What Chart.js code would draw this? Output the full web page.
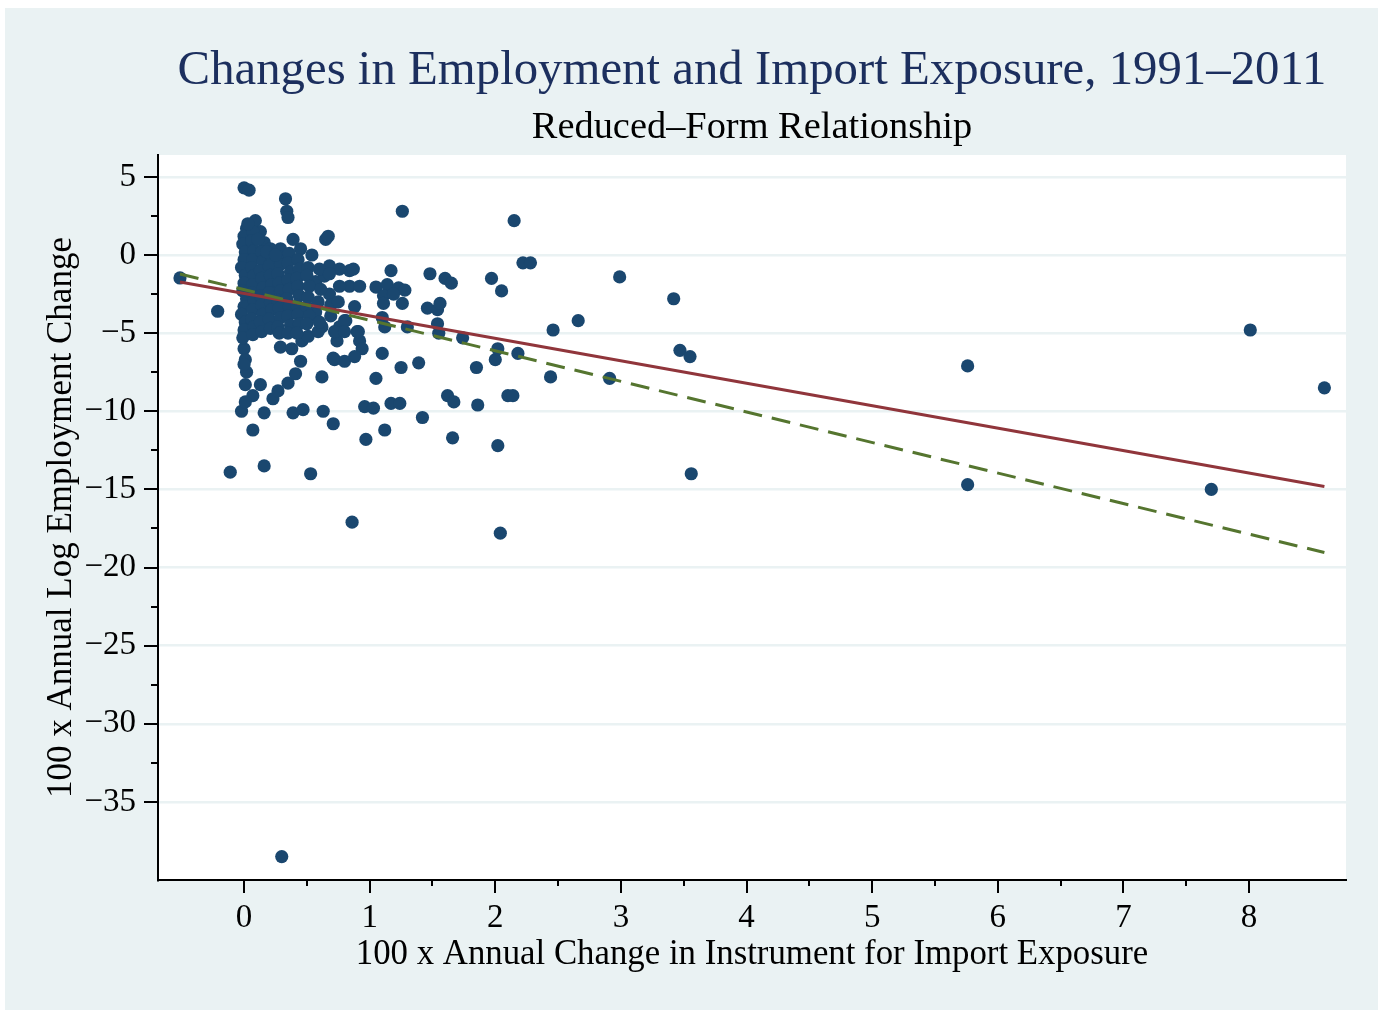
<!DOCTYPE html>
<html><head><meta charset="utf-8">
<script src="https://cdn.jsdelivr.net/npm/chart.js@4.4.1/dist/chart.umd.min.js"></script>
<style>html,body{margin:0;padding:0;background:#fff;overflow:hidden}#wrap{width:1383px;height:1015px}</style>
</head><body><div id="wrap"><canvas id="c" width="1383" height="1015"></canvas></div>
<script>
const titleText = "Changes in Employment and Import Exposure, 1991\u20132011";
const subtitleText = "Reduced\u2013Form Relationship";
const xAxisTitle = "100 x Annual Change in Instrument for Import Exposure";
const yAxisTitle = "100 x Annual Log Employment Change";
const xTickValues = [0,1,2,3,4,5,6,7,8];
const yTickValues = [5,0,-5,-10,-15,-20,-25,-30,-35];
const xMinorTicks = [0.5,1.5,2.5,3.5,4.5,5.5,6.5,7.5];
const yMinorTicks = [2.5,-2.5,-7.5,-12.5,-17.5,-22.5,-27.5,-32.5];

const pointX = [
-0.51,-0.21,-0.11,0.0,0.04,0.33,0.34,0.35,1.26,2.15,0.39,0.65,0.67,0.16,0.53,0.86,0.30,2.02,2.04,1.66,
0.97,1.12,0.07,0.16,-0.02,0.39,0.47,0.63,0.71,0.96,1.03,1.17,1.24,1.42,1.62,1.67,1.86,2.10,2.14,1.85,
1.25,1.39,1.05,1.10,0.72,0.80,0.62,2.0,2.02,2.18,2.44,2.91,2.46,2.66,2.99,3.42,3.47,3.55,3.56,5.76,
5.76,7.70,8.01,8.60,1.97,2.05,2.22,2.28,1.60,1.65,1.48,1.74,1.54,1.55,1.17,1.05,1.14,1.23,1.28,1.11,
1.19,1.11,1.26,1.46,1.54,1.56,1.10,1.12,1.30,0.84,0.87,0.84,0.92,0.88,0.76,0.81,0.90,0.92,0.94,0.88,
0.29,0.38,0.46,0.51,0.45,0.62,0.74,0.71,0.00,0.01,0.02,0.01,0.13,0.07,0.01,0.23,0.27,0.35,0.41,0.0,
0.09,0.02,0.13,0.16,0.29,0.45,0.54,0.68,0.76,0.57,0.64,0.68,0.57,0.69,0.80,0.59,0.72,0.80,0.91,
0.0,-0.01,0.01,0.0,-0.02,0.01,0.0,-0.01,0.02,0.0,-0.02,0.01,0.0,-0.01,
0.07,0.06,0.08,0.07,0.06,0.08,0.07,0.06,0.08,0.07,0.06,0.08,0.07,
0.14,0.15,0.13,0.14,0.15,0.13,0.14,0.15,0.13,0.14,
0.21,0.22,0.20,0.21,0.22,0.20,0.21,0.22,0.20,0.21,
0.28,0.29,0.27,0.28,0.29,0.27,0.28,0.29,0.27,0.28,
0.36,0.35,0.37,0.35,0.36,0.34,0.36,0.35,0.37,0.35,
0.43,0.44,0.42,0.43,0.44,0.42,0.43,0.44,0.42,
0.51,0.50,0.52,0.51,0.50,0.52,0.50,
0.60,0.61,0.59,0.60,0.68,0.69,0.76,0.75,
0.03,0.11,0.18,0.25
];
const pointY = [
-1.47,-3.6,-13.9,4.3,4.15,3.6,2.8,2.4,2.8,2.2,1.0,1.0,1.2,-13.5,-14.0,-17.1,-38.5,-12.2,-17.8,-11.7,
-11.8,-11.2,-11.2,-10.1,-10.0,-10.1,-9.9,-10.0,-10.8,-9.7,-9.8,-9.5,-9.5,-10.4,-9.0,-9.4,-9.6,-9.0,-9.0,-7.2,
-7.2,-6.9,-7.9,-6.3,-6.7,-6.8,-7.8,-6.7,-6.0,-6.3,-7.8,-7.9,-4.8,-4.2,-1.4,-2.8,-6.1,-6.5,-14.0,-7.1,
-14.7,-15.0,-4.8,-8.5,-1.5,-2.3,-0.5,-0.5,-1.5,-1.8,-1.2,-5.3,-4.4,-5.0,-1.0,-2.05,-1.9,-2.1,-2.25,-2.6,
-2.5,-3.1,-3.1,-3.4,-3.5,-3.1,-4.0,-4.6,-4.6,-1.0,-0.9,-2.0,-2.0,-3.3,-4.6,-4.2,-4.9,-5.5,-6.0,-6.5,
-5.9,-6.0,-5.5,-5.2,-6.8,-4.6,-5.5,-6.6,-6.0,-6.7,-7.5,-8.3,-8.3,-9.0,-9.4,-9.2,-8.7,-8.2,-7.6,-7.0,
2.2,1.7,1.5,0.8,0.4,0.4,0.0,-0.7,-0.9,-1.7,-1.35,-2.5,-3.65,-3.9,-4.2,-4.9,-4.9,-4.9,-4.9,
1.2,0.7,0.2,-0.3,-0.8,-1.3,-1.8,-2.3,-2.8,-3.3,-3.8,-4.3,-4.8,-5.3,
1.5,0.9,0.3,-0.3,-0.8,-1.3,-1.9,-2.4,-2.9,-3.5,-4.1,-4.6,-5.1,
0.2,-0.4,-1.0,-1.5,-2.1,-2.6,-3.2,-3.8,-4.3,-4.9,
0.4,-0.2,-0.7,-1.3,-1.9,-2.4,-3.0,-3.5,-4.1,-4.7,
-0.1,-0.6,-1.2,-1.8,-2.3,-2.9,-3.4,-4.0,-4.6,-5.0,
0.1,-0.5,-1.1,-1.6,-2.2,-2.8,-3.3,-3.9,-4.5,-5.0,
-0.3,-0.9,-1.5,-2.0,-2.6,-3.2,-3.8,-4.4,-5.0,
-0.8,-1.3,-2.0,-2.7,-3.3,-3.9,-4.4,
-0.9,-2.2,-3.0,-4.3,-1.2,-3.2,-2.0,-3.0,
2.0,1.0,0.2,0.0
];
const fitX = [-0.51, 8.6];
const fitRedY = [-1.73, -14.81];
const fitGreenY = [-1.22, -19.04];

const FONT = "'Liberation Serif', 'Times New Roman', serif";
const toPts = (xs, ys) => xs.map((x, i) => ({x: x, y: ys[i]}));
const fmt = v => (v < 0 ? "\u2212" + Math.abs(v) : String(v));

const bgPlugin = {
  id: 'bg',
  beforeDraw(chart) {
    const {ctx, chartArea: a} = chart;
    ctx.save();
    ctx.fillStyle = '#ffffff';
    ctx.fillRect(0, 0, chart.width, chart.height);
    ctx.fillStyle = '#EAF2F3';
    ctx.fillRect(5, 8, 1373, 1002);
    ctx.fillStyle = '#ffffff';
    ctx.fillRect(a.left, a.top, a.right - a.left, a.bottom - a.top);
    ctx.restore();
  },
  afterDraw(chart) {
    const {ctx, chartArea: a, scales} = chart;
    ctx.save();
    const cx = (a.left + a.right) / 2;
    ctx.textAlign = 'center';
    ctx.textBaseline = 'alphabetic';
    ctx.fillStyle = '#1c2f5e';
    ctx.font = '48.8px ' + FONT;
    ctx.fillText(titleText, cx, 84);
    ctx.fillStyle = '#000000';
    ctx.font = '38.4px ' + FONT;
    ctx.fillText(subtitleText, cx, 138);
    // axis ticks
    ctx.strokeStyle = '#000';
    ctx.lineWidth = 2;
    ctx.beginPath();
    xTickValues.forEach(v => { const p = Math.round(scales.x.getPixelForValue(v)); ctx.moveTo(p, a.bottom); ctx.lineTo(p, a.bottom + 13); });
    xMinorTicks.forEach(v => { const p = Math.round(scales.x.getPixelForValue(v)); ctx.moveTo(p, a.bottom); ctx.lineTo(p, a.bottom + 6); });
    yTickValues.forEach(v => { const p = Math.round(scales.y.getPixelForValue(v)); ctx.moveTo(a.left, p); ctx.lineTo(a.left - 14, p); });
    yMinorTicks.forEach(v => { const p = Math.round(scales.y.getPixelForValue(v)); ctx.moveTo(a.left, p); ctx.lineTo(a.left - 7, p); });
    ctx.stroke();
    ctx.restore();
  }
};

new Chart(document.getElementById('c'), {
  type: 'scatter',
  data: {
    datasets: [
      { label: 'fit2', data: toPts(fitX, fitGreenY), showLine: true, borderColor: '#55752F', borderWidth: 3, borderDash: [19, 10], pointRadius: 0, fill: false },
      { label: 'fit1', data: toPts(fitX, fitRedY), showLine: true, borderColor: '#90353B', borderWidth: 3, pointRadius: 0, fill: false },
      { label: 'points', data: toPts(pointX, pointY), backgroundColor: '#1A476F', borderWidth: 0, pointRadius: 6.6, pointHoverRadius: 6.6 }
    ]
  },
  options: {
    responsive: false,
    animation: false,
    devicePixelRatio: 1,
    layout: { padding: { top: 155, right: 37, left: 0, bottom: 0 } },
    plugins: { legend: { display: false }, tooltip: { enabled: false } },
    scales: {
      x: {
        type: 'linear', min: -0.685, max: 8.772,
        afterFit(s) { s.height = 135; },
        afterBuildTicks(s) { s.ticks = xTickValues.map(v => ({value: v})); },
        grid: { display: false },
        border: { display: true, color: '#000', width: 2 },
        ticks: { callback: v => fmt(v), color: '#000', font: { family: FONT, size: 33 }, padding: 11, maxRotation: 0, autoSkip: false },
        title: { display: true, text: xAxisTitle, color: '#000', font: { family: FONT, size: 34.8 }, padding: { top: 0, bottom: 39 } }
      },
      y: {
        type: 'linear', min: -40, max: 6.4,
        afterFit(s) { s.width = 158; },
        afterBuildTicks(s) { s.ticks = yTickValues.map(v => ({value: v})); },
        grid: { display: true, color: '#EAF2F3', lineWidth: 2.5, drawTicks: false },
        border: { display: true, color: '#000', width: 2 },
        ticks: { callback: v => fmt(v), color: '#000', font: { family: FONT, size: 33 }, padding: 22, autoSkip: false },
        title: { display: true, text: yAxisTitle, color: '#000', font: { family: FONT, size: 35 }, padding: { top: 41, bottom: 0 } }
      }
    }
  },
  plugins: [bgPlugin]
});
</script>
</body></html>
